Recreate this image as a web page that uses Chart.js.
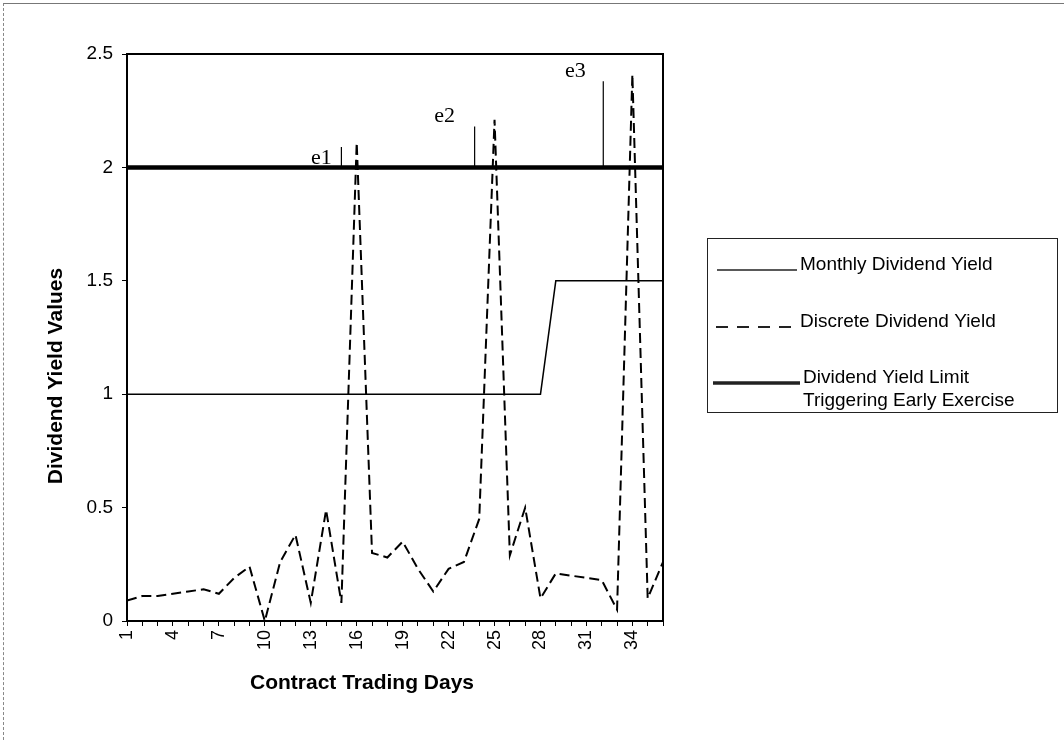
<!DOCTYPE html>
<html lang="en">
<head>
<meta charset="UTF-8">
<title>Dividend Yield Values</title>
<script src="https://cdn.jsdelivr.net/npm/chart.js@4"></script>
<style>
  html, body { margin:0; padding:0; background:#fff; }
  #wrap { position:relative; width:1064px; height:740px; overflow:hidden; }
  #frame { position:absolute; left:3px; top:3px; right:-5px; bottom:-5px; border-top:1px solid #777; border-left:1px dashed #888; }
  canvas { position:absolute; left:0; top:0; }
</style>
</head>
<body>
<div id="wrap">
  <div id="frame"></div>
  <canvas id="chart" width="1064" height="740"></canvas>
</div>
<script>
// contract trading days (x) and the days that get a tick label
const days = [1,2,3,4,5,6,7,8,9,10,11,12,13,14,15,16,17,18,19,20,21,22,23,24,25,26,27,28,29,30,31,32,33,34,35,36];
const labelDays = [1,4,7,10,13,16,19,22,25,28,31,34];
const yTickLabels = ['0', '0.5', '1', '1.5', '2', '2.5'];

// series
const monthlyYield = [1,1,1,1,1,1,1,1,1,1,1,1,1,1,1,1,1,1,1,1,1,1,1,1,1,1,1,1,1.5,1.5,1.5,1.5,1.5,1.5,1.5,1.5];
const discreteYield = [0.09,0.11,0.11,0.12,0.13,0.14,0.12,0.19,0.24,0.00,0.26,0.38,0.08,0.49,0.08,2.11,0.30,0.28,0.35,0.23,0.13,0.23,0.26,0.45,2.21,0.29,0.50,0.10,0.21,0.20,0.19,0.18,0.05,2.41,0.10,0.26];
const yieldLimit = [2,2,2,2,2,2,2,2,2,2,2,2,2,2,2,2,2,2,2,2,2,2,2,2,2,2,2,2,2,2,2,2,2,2,2,2];

// early exercise markers e1..e3 (vertical strokes rising from the limit)
const eventNames = ['e1', 'e2', 'e3'];
const eventDays = [15, 23.7, 32.1];
const eventTops = [2.09, 2.18, 2.38];
const eventBase = 2;

const seriesLabels = [['Monthly Dividend Yield'], ['Discrete Dividend Yield'], ['Dividend Yield Limit', 'Triggering Early Exercise']];

const pts = vals => days.map((d, i) => ({ x: d, y: vals[i] }));
const SANS = '"Liberation Sans", Arial, sans-serif';

const datasets = [
  { label: seriesLabels[0].join(' '), data: pts(monthlyYield), borderColor: '#000', borderWidth: 1.5, pointRadius: 0, tension: 0 },
  { label: seriesLabels[1].join(' '), data: pts(discreteYield), borderColor: '#000', borderWidth: 2, borderDash: [10, 5], pointRadius: 0, tension: 0 },
  { label: seriesLabels[2].join(' '), data: pts(yieldLimit), borderColor: '#000', borderWidth: 4.5, pointRadius: 0, tension: 0 }
];
eventDays.forEach((d, i) => {
  datasets.push({ label: eventNames[i], data: [{ x: d, y: eventBase }, { x: d, y: eventTops[i] }], borderColor: '#000', borderWidth: 1.2, pointRadius: 0 });
});

const decor = {
  id: 'decor',
  afterDatasetsDraw(chart) {
    const { ctx, chartArea: a, scales: { x, y } } = chart;
    ctx.save();
    ctx.strokeStyle = '#000';
    ctx.lineWidth = 2;
    ctx.strokeRect(a.left, a.top, a.right - a.left, a.bottom - a.top);

    // e1, e2, e3 labels next to their strokes
    const offs = [[-20, 11], [-30, -10], [-28, -10]];
    ctx.fillStyle = '#000';
    ctx.font = '22px "Liberation Serif", "Times New Roman", serif';
    ctx.textAlign = 'center';
    ctx.textBaseline = 'middle';
    eventNames.forEach((n, i) => {
      ctx.fillText(n, x.getPixelForValue(eventDays[i]) + offs[i][0], y.getPixelForValue(eventTops[i]) + offs[i][1]);
    });
    ctx.restore();
  },
  afterDraw(chart) {
    const { ctx } = chart;
    ctx.save();
    ctx.fillStyle = '#000';

    // axis titles
    ctx.font = 'bold 21px ' + SANS;
    ctx.textAlign = 'center';
    ctx.textBaseline = 'middle';
    ctx.fillText('Contract Trading Days', 362, 683);
    ctx.translate(56, 376);
    ctx.rotate(-Math.PI / 2);
    ctx.fillText('Dividend Yield Values', 0, 0);
    ctx.setTransform(1, 0, 0, 1, 0, 0);

    // legend box
    const box = { left: 707, top: 238, width: 350, height: 174 };
    ctx.strokeStyle = '#222';
    ctx.lineWidth = 1;
    ctx.strokeRect(box.left + 0.5, box.top + 0.5, box.width, box.height);
    const rows = [265, 322, 378];
    const samples = [[717, 797], [716, 797], [713, 800]];
    ctx.font = '19px ' + SANS;
    ctx.textAlign = 'left';
    for (let i = 0; i < 3; i++) {
      const ds = chart.data.datasets[i];
      ctx.beginPath();
      ctx.lineWidth = i === 2 ? 3.5 : ds.borderWidth;
      ctx.setLineDash(i === 1 ? [12, 9] : []);
      ctx.moveTo(samples[i][0], rows[i] + 5);
      ctx.lineTo(samples[i][1], rows[i] + 5);
      ctx.stroke();
      ctx.setLineDash([]);
      seriesLabels[i].forEach((t, k) => ctx.fillText(t, samples[i][1] + 3, rows[i] + k * 23));
    }
    ctx.restore();
  }
};

new Chart(document.getElementById('chart'), {
  type: 'line',
  data: { datasets },
  plugins: [decor],
  options: {
    responsive: false,
    animation: false,
    layout: { padding: { left: 44, right: 401, top: 54, bottom: 48 } },
    plugins: { legend: { display: false }, tooltip: { enabled: false } },
    scales: {
      x: {
        type: 'linear',
        min: 1,
        max: 36,
        border: { display: false },
        grid: { drawOnChartArea: false, drawTicks: true, tickLength: 5, color: '#000', lineWidth: 1 },
        ticks: {
          stepSize: 1,
          autoSkip: false,
          minRotation: 90,
          maxRotation: 90,
          padding: 4,
          color: '#000',
          font: { family: SANS, size: 18 },
          callback: v => labelDays.includes(v) ? String(v) : ''
        },
        afterFit: s => { s.height = 71; }
      },
      y: {
        min: 0,
        max: 2.5,
        border: { display: false },
        grid: { drawOnChartArea: false, drawTicks: true, tickLength: 5, color: '#000', lineWidth: 1 },
        ticks: { stepSize: 0.5, padding: 9, color: '#000', font: { family: SANS, size: 19 },
          callback: (v, i) => yTickLabels[i] },
        afterFit: s => { s.width = 83; }
      }
    }
  }
});
</script>
</body>
</html>
